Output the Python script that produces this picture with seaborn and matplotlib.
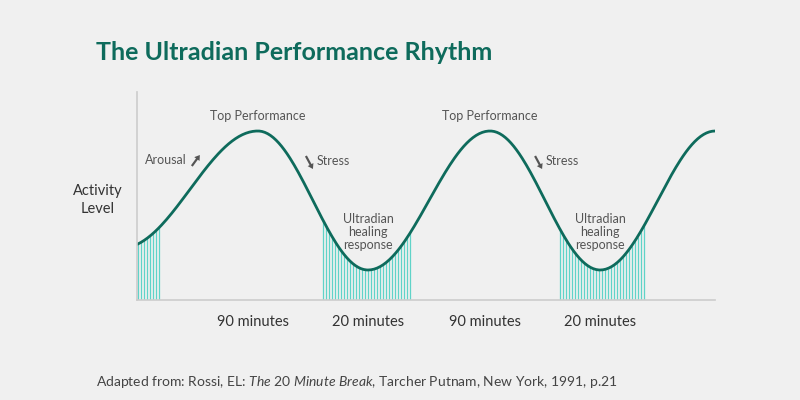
import numpy as np
import matplotlib
matplotlib.use("Agg")
import matplotlib.pyplot as plt
import seaborn as sns
import pandas as pd

# Key extrema of the rhythm (time units, activity level)
extrema_x = [-15, 121, 231, 353, 463, 578]
extrema_y = [52, 169, 30, 169, 30, 169]
# healing response shaded spans
shade_spans = [(0, 25), (185, 276), (421, 507)]
duration_labels = ["90 minutes", "20 minutes", "90 minutes", "20 minutes"]
duration_pos = [116, 231, 348, 463]

sns.set_theme(style="white", font="Lato")
plt.rcParams["mathtext.fontset"] = "custom"
plt.rcParams["mathtext.it"] = "Lato:italic"
plt.rcParams["mathtext.rm"] = "Lato"
bg = "#f0f0f0"
teal = "#0e6b5c"
hatch = "#5fd3c8"
gray = "#555555"

xs, ys = [], []
for i in range(len(extrema_x) - 1):
    t = np.linspace(0, 1, 80)
    x0, x1 = extrema_x[i], extrema_x[i + 1]
    y0, y1 = extrema_y[i], extrema_y[i + 1]
    xs.append(x0 + (x1 - x0) * t)
    ys.append(y0 + (y1 - y0) * (1 - np.cos(np.pi * t)) / 2)
xs = np.concatenate(xs); ys = np.concatenate(ys)
m = xs >= 0
df = pd.DataFrame({"t": xs[m], "level": ys[m]})

fig = plt.figure(figsize=(8, 4), dpi=100, facecolor=bg)
ax = fig.add_axes([0.171, 0.25, 0.723, 0.52])
ax.set_facecolor(bg)

for a, b in shade_spans:
    lx = np.arange(a + 1.5, b, 3.0)
    ax.vlines(lx, 0, np.interp(lx, df.t, df.level), color=hatch, lw=0.9)

sns.lineplot(data=df, x="t", y="level", color=teal, lw=2, ax=ax)
ax.set_xlim(0, 578)
ax.set_ylim(0, 208)
ax.set_xticks([]); ax.set_yticks([])
ax.set_xlabel(""); ax.set_ylabel("")
for s in ["top", "right"]:
    ax.spines[s].set_visible(False)
for s in ["left", "bottom"]:
    ax.spines[s].set_color("#cccccc"); ax.spines[s].set_linewidth(1.2)

for p, l in zip(duration_pos, duration_labels):
    ax.text(p, -22, l, ha="center", va="center", fontsize=10.5, color="#333333")

ax.text(121, 184, "Top Performance", ha="center", va="center", fontsize=9, color=gray)
ax.text(353, 184, "Top Performance", ha="center", va="center", fontsize=9, color=gray)
ax.text(50, 140, "Arousal", ha="right", va="center", fontsize=9, color=gray)
arrow_kw = dict(width=2.2, head_width=6.5, head_length=5, length_includes_head=True,
                color="#555555", lw=0)
ax.arrow(55, 134, 8, 11, **arrow_kw)
for sx in [169, 398]:
    ax.arrow(sx, 144, 7, -13, **arrow_kw)
    ax.text(sx + 11, 139, "Stress", ha="left", va="center", fontsize=9, color=gray)
for cx in [231, 463]:
    ax.text(cx, 68, "Ultradian\nhealing\nresponse", ha="center", va="center",
            fontsize=9, color=gray, linespacing=1.1)

fig.text(0.122, 0.5, "Activity\nLevel", ha="center", va="center", fontsize=10.5,
         color="#333333", linespacing=1.4)
fig.text(0.12, 0.87, "The Ultradian Performance Rhythm", fontsize=18, fontweight="bold",
         color=teal, ha="left", va="center")
fig.text(0.12, 0.045, "Adapted from: Rossi, EL: $\\it{The\\ 20\\ Minute\\ Break}$, Tarcher Putnam, New York, 1991, p.21",
         fontsize=10, color="#444444", ha="left", va="center")

fig.savefig("out.png", dpi=100, facecolor=bg)
